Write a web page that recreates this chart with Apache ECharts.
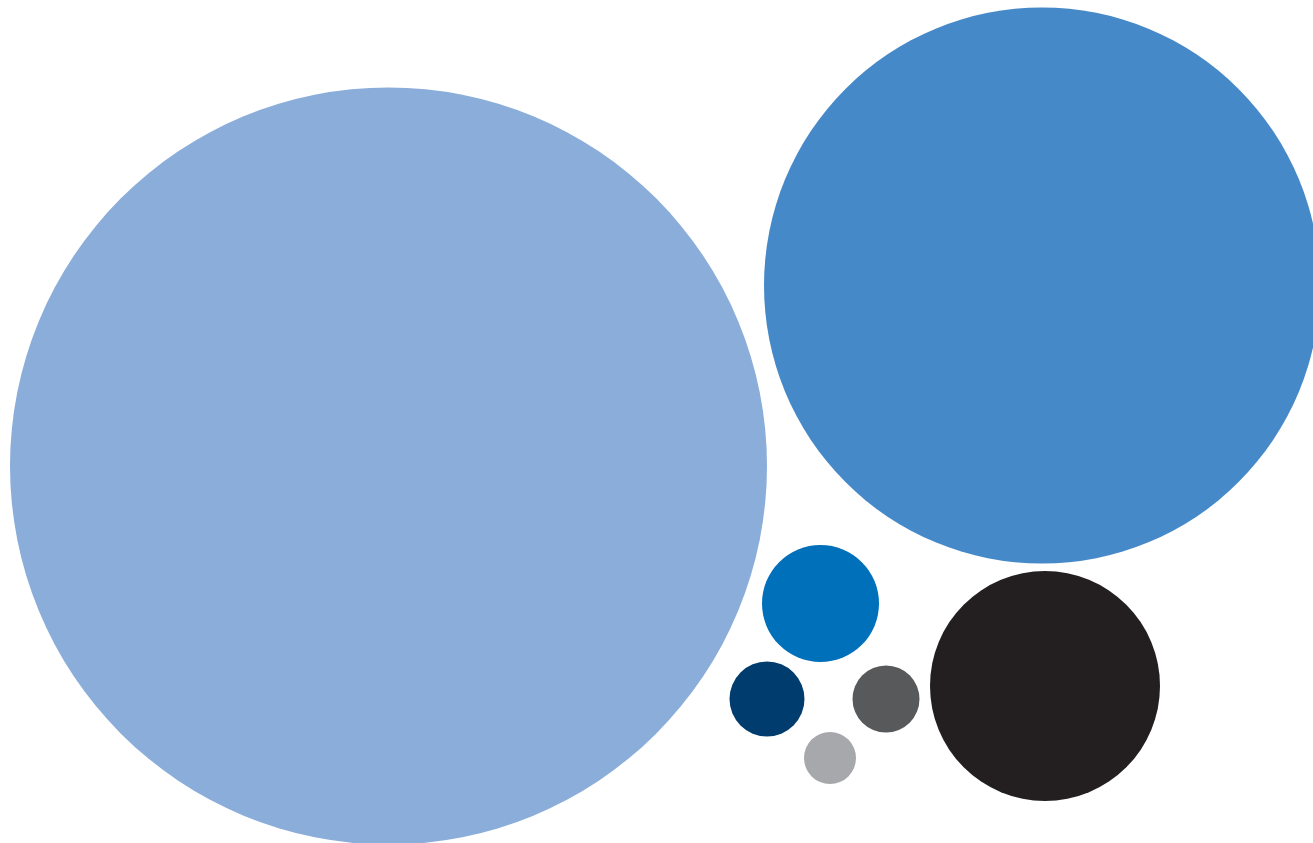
<!DOCTYPE html>
<html><head><meta charset="utf-8">
<script src="https://cdn.jsdelivr.net/npm/echarts@6/dist/echarts.min.js"></script>
<style>html,body{margin:0;padding:0;background:#fff}#c{width:1313px;height:843px}</style>
</head><body><div id="c"></div>
<script>
var names = ['A','B','C','D','E','F','G'];
var xValues = [388.5, 1042, 820.5, 767, 886, 830, 1045];
var yValues = [466, 285.5, 603.5, 699, 699, 758, 686];
var radii = [378.5, 278, 58.5, 37.5, 33.5, 26, 115];
var colors = ['#8BADDA', '#4689C8', '#0070BA', '#003C6E', '#58595B', '#A7A8AC', '#231F20'];

var data = names.map(function(n, i){
  return {name: n, value: [xValues[i], yValues[i], radii[i]], itemStyle: {color: colors[i], opacity: 1}};
});
var chart = echarts.init(document.getElementById('c'));
chart.setOption({
  animation: false,
  grid: {left: 0, right: 0, top: 0, bottom: 0},
  xAxis: {type: 'value', min: 0, max: 1313, show: false},
  yAxis: {type: 'value', min: 0, max: 843, inverse: true, show: false},
  series: [{
    type: 'scatter',
    clip: false,
    data: data,
    symbolSize: function(v){ return v[2] * 2; },
    emphasis: {disabled: true}
  }]
});
</script></body></html>
